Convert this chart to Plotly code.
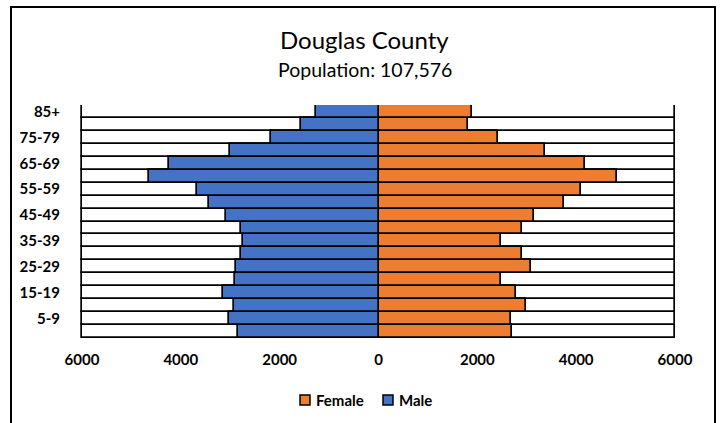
import plotly.graph_objects as go

age_groups = ["0-4", "5-9", "10-14", "15-19", "20-24", "25-29", "30-34", "35-39",
              "40-44", "45-49", "50-54", "55-59", "60-64", "65-69", "70-74",
              "75-79", "80-84", "85+"]
male = [2852, 3035, 2925, 3156, 2905, 2885, 2792, 2737, 2778, 3081, 3439, 3668,
        4639, 4234, 3014, 2185, 1570, 1266]
female = [2701, 2681, 2983, 2789, 2473, 3077, 2910, 2487, 2903, 3145, 3757, 4093,
          4818, 4173, 3374, 2426, 1801, 1895]
axis_max = 6000
x_ticks = [-6000, -4000, -2000, 0, 2000, 4000, 6000]
x_ticktext = ["6000", "4000", "2000", "0", "2000", "4000", "6000"]
y_ticks = ["85+", "75-79", "65-69", "55-59", "45-49", "35-39", "25-29", "15-19", "5-9"]
legend_names = ["Female", "Male"]

title_text = "Douglas County"
subtitle_text = "Population: 107,576"

BLUE = "#4472C4"
ORANGE = "#ED7D31"
FONT = "Lato"

W, H = 720, 423
PLOT_X0, PLOT_X1, PLOT_Y0, PLOT_Y1 = 80, 677, 105, 338  # screen pixels
RANGE_PAD = 40  # small pad so the outer bar outlines stay visible
L, R = PLOT_X0, W - PLOT_X1
T, B = PLOT_Y0, H - PLOT_Y1
pw, ph = W - L - R, H - T - B


def px_x(x):
    return (x - PLOT_X0) / pw


def px_y(y):
    return (PLOT_Y1 - y) / ph


fig = go.Figure()
outline = dict(color="#000000", width=1.7)

fig.add_trace(go.Bar(y=age_groups, x=[-axis_max] * len(age_groups), orientation="h",
                     marker=dict(color="white", line=outline), width=1, cliponaxis=False,
                     showlegend=False, hoverinfo="skip"))
fig.add_trace(go.Bar(y=age_groups, x=[axis_max] * len(age_groups), orientation="h",
                     marker=dict(color="white", line=outline), width=1, cliponaxis=False,
                     showlegend=False, hoverinfo="skip"))
fig.add_trace(go.Bar(y=age_groups, x=female, orientation="h", name="Female",
                     marker=dict(color=ORANGE, line=outline), width=1, cliponaxis=False,
                     showlegend=False))
fig.add_trace(go.Bar(y=age_groups, x=[-v for v in male], orientation="h", name="Male",
                     marker=dict(color=BLUE, line=outline), width=1, cliponaxis=False,
                     showlegend=False,
                     customdata=male, hovertemplate="%{y}: %{customdata}<extra>Male</extra>"))

fig.update_layout(
    width=W, height=H,
    barmode="overlay", bargap=0,
    paper_bgcolor="white", plot_bgcolor="white",
    margin=dict(l=L, r=R, t=T, b=B, autoexpand=False),
    font=dict(family=FONT, color="#000000"),
    showlegend=False,
)
fig.update_xaxes(range=[-axis_max - RANGE_PAD, axis_max + RANGE_PAD],
                 tickvals=x_ticks, ticktext=x_ticktext,
                 showgrid=False, zeroline=False, showline=False, automargin=False,
                 ticks="outside", ticklen=8, tickcolor="rgba(0,0,0,0)",
                 tickfont=dict(family=FONT, size=15, weight="bold"))
fig.update_yaxes(categoryorder="array", categoryarray=age_groups,
                 range=[-0.5, len(age_groups) - 0.5], automargin=False,
                 tickvals=y_ticks, showgrid=False, zeroline=False, showline=False,
                 ticks="outside", ticklen=16, tickcolor="rgba(0,0,0,0)",
                 tickfont=dict(family=FONT, size=15, weight="bold"))

fig.add_annotation(text=title_text, xref="paper", yref="paper", x=px_x(364), y=px_y(40),
                   yanchor="middle", showarrow=False,
                   font=dict(family=FONT, size=24, color="#000000"))
fig.add_annotation(text=subtitle_text, xref="paper", yref="paper", x=px_x(365), y=px_y(69),
                   yanchor="middle", showarrow=False,
                   font=dict(family=FONT, size=19.5, color="#000000"))

# legend (manual, to match compact square + label layout)
legend_colors = [ORANGE, BLUE]
legend_sq_x = [300, 383]
legend_y = 400
for name, col, sx in zip(legend_names, legend_colors, legend_sq_x):
    fig.add_shape(type="rect", xref="paper", yref="paper",
                  x0=px_x(sx), x1=px_x(sx + 10), y0=px_y(legend_y + 5), y1=px_y(legend_y - 5),
                  line=dict(color="#000000", width=1.5), fillcolor=col)
    fig.add_annotation(text=name, xref="paper", yref="paper", x=px_x(sx + 14), y=px_y(legend_y),
                       xanchor="left", yanchor="middle", showarrow=False,
                       font=dict(family=FONT, size=15, weight="bold", color="#000000"))

# outer chart frame
fig.add_shape(type="rect", xref="paper", yref="paper",
              x0=px_x(11), x1=px_x(715), y0=px_y(440), y1=px_y(7),
              line=dict(color="#000000", width=2), fillcolor="rgba(0,0,0,0)", layer="above")

fig.write_html("out.html", config={"displayModeBar": False},
               post_script="document.body.style.margin='0';document.body.style.overflow='hidden';")
